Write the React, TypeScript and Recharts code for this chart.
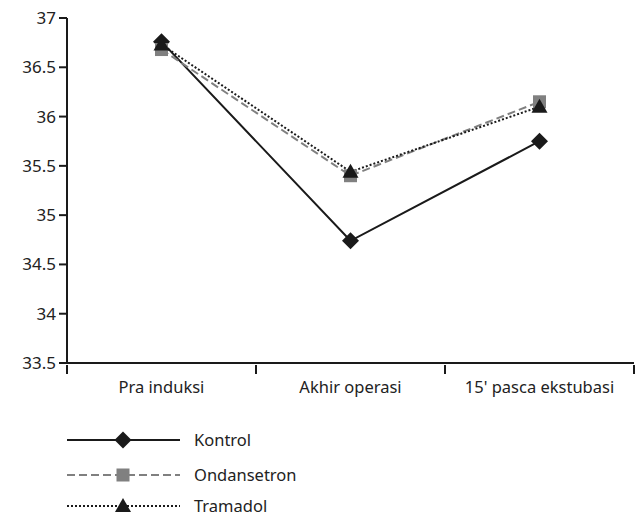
import React from 'react'
import { LineChart, Line, XAxis, YAxis, Legend } from 'recharts'

const categories = ['Pra induksi', 'Akhir operasi', "15' pasca ekstubasi"]
const kontrol = [36.76, 34.74, 35.75]
const ondansetron = [36.68, 35.4, 36.15]
const tramadol = [36.73, 35.44, 36.1]
const yTicks = [33.5, 34, 34.5, 35, 35.5, 36, 36.5, 37]

const seriesMeta = [
  { key: 'Kontrol', color: '#1a1a1a', dash: undefined, shape: 'diamond' },
  { key: 'Ondansetron', color: '#808080', dash: '8 4', shape: 'square' },
  { key: 'Tramadol', color: '#1a1a1a', dash: '2 2', shape: 'triangle' },
]

const data = categories.map((name, i) => ({
  name,
  Kontrol: kontrol[i],
  Ondansetron: ondansetron[i],
  Tramadol: tramadol[i],
}))

const W = 636
const H = 516
const LEFT = 67
const RIGHT = 2
const FONT = '"Noto Sans", sans-serif'
const band = (W - LEFT - RIGHT) / categories.length

function Marker({ cx, cy, shape, color }: { cx: number; cy: number; shape: string; color: string }) {
  if (cx == null || cy == null) return null
  if (shape === 'diamond') {
    const r = 8.5
    return <path d={`M${cx},${cy - r}L${cx + r},${cy}L${cx},${cy + r}L${cx - r},${cy}Z`} fill="#1a1a1a" />
  }
  if (shape === 'square') {
    const s = 6.5
    return <rect x={cx - s} y={cy - s} width={s * 2} height={s * 2} fill={color} />
  }
  return <path d={`M${cx},${cy - 8}L${cx + 8},${cy + 6}L${cx - 8},${cy + 6}Z`} fill="#1a1a1a" />
}

function XTick(props: any) {
  const { x, y, payload, index } = props
  const left = x - band / 2
  return (
    <g>
      <line x1={left} y1={y - 8} x2={left} y2={y + 1} stroke="#1a1a1a" strokeWidth={2} />
      {index === categories.length - 1 && (
        <line x1={x + band / 2} y1={y - 8} x2={x + band / 2} y2={y + 1} stroke="#1a1a1a" strokeWidth={2} />
      )}
      <text x={x} y={y + 20} textAnchor="middle" fontSize={16.5} fontFamily={FONT} fill="#222">
        {payload.value}
      </text>
    </g>
  )
}

function LegendBox() {
  const rows = [37, 72, 103]
  return (
    <svg width={W} height={113} style={{ display: 'block' }}>
      {seriesMeta.map((s, i) => (
        <g key={s.key}>
          <line x1={67} y1={rows[i]} x2={180} y2={rows[i]} stroke={s.color} strokeWidth={2} strokeDasharray={s.dash} />
          <Marker cx={123} cy={rows[i]} shape={s.shape} color={s.color} />
          <text x={194} y={rows[i] + 6} fontSize={16.5} fontFamily={FONT} fill="#222">
            {s.key}
          </text>
        </g>
      ))}
    </svg>
  )
}

export default function App() {
  return (
    <div style={{ position: 'absolute', top: 0, left: 0, width: W, height: H, background: '#fff' }}>
      <LineChart width={W} height={H} data={data} margin={{ top: 18, right: RIGHT, left: 0, bottom: 0 }}>
        <XAxis
          dataKey="name"
          tickLine={false}
          tick={<XTick />}
          height={40}
          padding={{ left: band / 2, right: band / 2 }}
          stroke="#1a1a1a"
          strokeWidth={2}
          tickSize={8}
        />
        <YAxis
          width={LEFT}
          domain={[33.5, 37]}
          ticks={yTicks}
          interval={0}
          tickSize={8}
          tickMargin={3}
          stroke="#1a1a1a"
          strokeWidth={2}
          tick={{ fontSize: 17, fontFamily: FONT, fill: '#222' }}
        />
        <Legend verticalAlign="bottom" height={113} content={() => <LegendBox />} />
        {seriesMeta.map((s) => (
          <Line
            key={s.key}
            dataKey={s.key}
            stroke={s.color}
            strokeWidth={2}
            strokeDasharray={s.dash}
            isAnimationActive={false}
            dot={(p: any) => <Marker key={`${s.key}-${p.index}`} cx={p.cx} cy={p.cy} shape={s.shape} color={s.color} />}
            activeDot={false}
          />
        ))}
      </LineChart>
    </div>
  )
}
